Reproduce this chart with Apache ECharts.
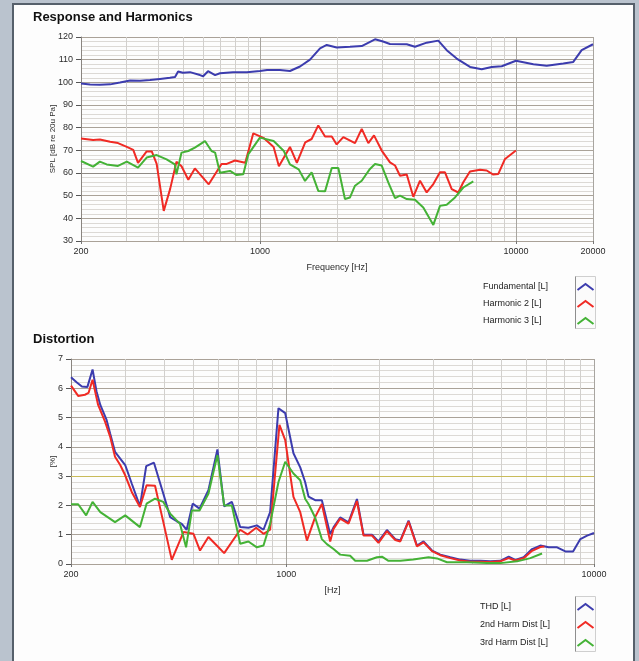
<!DOCTYPE html>
<html>
<head>
<meta charset="utf-8">
<script src="https://cdn.jsdelivr.net/npm/echarts@6/dist/echarts.min.js"></script>
<style>
  html, body { margin: 0; padding: 0; background: #bac3ce; }
  #frame { position: absolute; left: 12px; top: 3px; width: 619px; height: 660px;
           border: 2px solid #56606b; border-bottom: none; background: #fdfdfd; }
  #chart { position: absolute; left: 0; top: 0; width: 639px; height: 661px; }
</style>
</head>
<body>
<div id="frame"></div>
<div id="chart"></div>
<script>
// ---- Response and Harmonics (SPL, dB re 20 uPa) ----
const fundamentalHz = [200, 217, 237, 260, 284, 311, 340, 372, 407, 445, 466, 479, 500, 533, 583, 600, 627, 668, 698, 785, 890, 1000, 1066, 1197, 1310, 1434, 1569, 1717, 1824, 1995, 2248, 2498, 2815, 3025, 3220, 3745, 4034, 4481, 4974, 5365, 5870, 6615, 7350, 8040, 8800, 10000, 11700, 13190, 15310, 16750, 18060, 20000];
const fundamentalDb = [99.5, 99.0, 98.9, 99.1, 99.9, 100.8, 100.7, 101.0, 101.5, 102.0, 102.4, 104.8, 104.2, 104.5, 103.2, 102.7, 104.9, 103.2, 104.0, 104.5, 104.4, 105.0, 105.4, 105.4, 105.0, 107.0, 110.0, 115.0, 116.5, 115.4, 115.7, 116.0, 119.0, 118.0, 116.9, 116.8, 115.7, 117.5, 118.4, 114.2, 110.5, 106.8, 105.8, 106.8, 107.1, 109.5, 108.0, 107.3, 108.3, 109.0, 114.2, 116.8];

const harmonic2Hz = [200, 223, 237, 260, 279, 302, 320, 334, 361, 378, 395, 421, 446, 472, 494, 525, 557, 631, 708, 742, 799, 876, 942, 1032, 1131, 1186, 1310, 1394, 1503, 1592, 1690, 1796, 1908, 1994, 2117, 2352, 2498, 2651, 2790, 2990, 3221, 3371, 3525, 3745, 3973, 4220, 4481, 4757, 5050, 5284, 5612, 5954, 6228, 6614, 7240, 7686, 8156, 8534, 9066, 10000];
const harmonic2Db = [75.2, 74.6, 74.8, 73.8, 73.2, 71.5, 70.2, 64.5, 69.5, 69.5, 64, 43.3, 53, 65, 63, 57, 62, 55, 64, 64, 65.5, 64.5, 77.5, 75.5, 71.5, 63, 71.5, 64.5, 73.5, 75, 81, 76.1, 76.1, 72.6, 75.8, 73.2, 79.5, 73.2, 76.6, 69.9, 64.7, 63.3, 58.8, 59.3, 49.5, 56.6, 51.4, 55.1, 60.3, 60.3, 52.9, 51.4, 55.9, 60.7, 61.4, 61.1, 59.3, 59.6, 66.2, 69.9];

const harmonic3Hz = [200, 223, 237, 252, 279, 302, 334, 361, 395, 432, 465, 472, 494, 525, 557, 610, 647, 668, 698, 764, 811, 861, 900, 1000, 1131, 1240, 1310, 1417, 1500, 1592, 1690, 1796, 1908, 2024, 2148, 2248, 2352, 2498, 2690, 2815, 2990, 3172, 3371, 3525, 3745, 4034, 4346, 4757, 5050, 5365, 5781, 6228, 6814];
const harmonic3Db = [65.3, 62.8, 65, 63.8, 63.1, 65, 62.4, 66.8, 67.9, 66, 63.8, 59.4, 69, 69.7, 71.2, 74.1, 69.7, 69, 60.1, 60.9, 59.1, 59.4, 68.2, 75.6, 74.1, 69.7, 63.8, 61.6, 56.5, 60.3, 52.1, 51.9, 62.2, 62.2, 48.5, 49.2, 54.4, 56.6, 61.8, 64, 63.3, 55.9, 48.9, 50, 48.5, 48.2, 44.8, 37.1, 45.5, 46, 49.2, 53.6, 56.3];

// ---- Distortion (%) ----
const thdHz = [200, 209, 217, 226, 235, 242, 249, 261, 268, 278, 289, 300, 315, 335, 351, 372, 399, 420, 441, 458, 475, 497, 523, 559, 598, 629, 666, 709, 754, 803, 844, 887, 944, 993, 1056, 1111, 1153, 1182, 1242, 1306, 1390, 1425, 1498, 1594, 1698, 1784, 1900, 1995, 2125, 2262, 2348, 2498, 2660, 2794, 2977, 3168, 3414, 3679, 3964, 4272, 4605, 4962, 5282, 5551, 5909, 6292, 6694, 7124, 7586, 8072, 8551, 9030, 9495, 10000];
const thdPct = [6.38, 6.2, 6.06, 6.04, 6.64, 5.9, 5.43, 4.92, 4.46, 3.83, 3.6, 3.38, 2.75, 1.97, 3.34, 3.46, 2.4, 1.6, 1.46, 1.37, 1.17, 2.06, 1.89, 2.52, 3.91, 1.97, 2.12, 1.26, 1.24, 1.32, 1.17, 1.77, 5.32, 5.15, 3.78, 3.3, 2.79, 2.3, 2.18, 2.18, 1.02, 1.25, 1.59, 1.42, 2.22, 1.0, 1.0, 0.77, 1.16, 0.85, 0.8, 1.48, 0.63, 0.77, 0.46, 0.32, 0.23, 0.15, 0.11, 0.11, 0.09, 0.11, 0.25, 0.14, 0.23, 0.51, 0.63, 0.57, 0.57, 0.43, 0.43, 0.85, 0.97, 1.06];

const harm2Hz = [200, 211, 222, 228, 235, 245, 258, 268, 278, 289, 300, 315, 335, 352, 375, 399, 425, 447, 464, 500, 525, 559, 595, 629, 709, 749, 799, 844, 887, 951, 993, 1056, 1111, 1168, 1242, 1306, 1390, 1425, 1498, 1594, 1698, 1784, 1900, 1995, 2125, 2262, 2348, 2498, 2660, 2794, 2977, 3168, 3414, 3679, 3964, 4272, 4605, 4962, 5282, 5551, 5909, 6292, 6694, 6900];
const harm2Pct = [6.09, 5.74, 5.78, 5.84, 6.29, 5.43, 4.86, 4.35, 3.66, 3.38, 3.03, 2.46, 1.95, 2.69, 2.67, 1.43, 0.14, 0.69, 1.09, 1.03, 0.46, 0.92, 0.63, 0.37, 1.17, 1.01, 1.24, 1.03, 1.17, 4.75, 4.23, 2.29, 1.77, 0.8, 1.6, 2.05, 0.77, 1.2, 1.55, 1.38, 2.15, 0.97, 0.97, 0.72, 1.12, 0.82, 0.77, 1.45, 0.6, 0.74, 0.44, 0.3, 0.2, 0.12, 0.08, 0.08, 0.07, 0.09, 0.2, 0.12, 0.2, 0.45, 0.58, 0.6];

const harm3Hz = [200, 211, 224, 235, 249, 278, 300, 335, 352, 375, 399, 420, 452, 473, 494, 523, 559, 598, 629, 666, 709, 754, 803, 844, 887, 944, 993, 1056, 1111, 1153, 1182, 1242, 1306, 1356, 1425, 1498, 1614, 1676, 1830, 1971, 2047, 2150, 2348, 2587, 2902, 3090, 3330, 3868, 4493, 4962, 5624, 6212, 6780];
const harm3Pct = [2.04, 2.04, 1.66, 2.12, 1.77, 1.43, 1.66, 1.26, 2.06, 2.23, 2.12, 1.72, 1.37, 0.57, 1.83, 1.83, 2.4, 3.72, 2.0, 2.0, 0.69, 0.77, 0.57, 0.63, 1.37, 2.8, 3.49, 3.09, 2.86, 2.22, 2.05, 1.59, 0.85, 0.68, 0.51, 0.32, 0.28, 0.11, 0.11, 0.23, 0.25, 0.11, 0.11, 0.15, 0.23, 0.19, 0.06, 0.06, 0.03, 0.03, 0.09, 0.2, 0.36];

const responseNames = ['Fundamental [L]', 'Harmonic 2 [L]', 'Harmonic 3 [L]'];
const distortionNames = ['THD [L]', '2nd Harm Dist [L]', '3rd Harm Dist [L]'];

const BLUE = '#3c3cae', RED = '#f02a24', GREEN = '#44b236';
const FONT = '"Liberation Sans", Arial, sans-serif';
const MAJOR = '#aaa298', MINOR = '#dcd9d5', VMINOR = '#d2d0cd', VMAJOR = '#a8a5a0';

const pairs = (xs, ys) => xs.map((x, i) => [x, ys[i]]);

// intermediate log gridlines (2..9 x decade) strictly inside the axis range
function logMinor(min, max) {
  const out = [];
  for (let d = 100; d <= max; d *= 10)
    for (let k = 2; k <= 9; k++) { const f = k * d; if (f > min && f < max) out.push(f); }
  return out;
}

function vGrid(idx, xs, y0, y1, color) {
  return {
    type: 'custom', xAxisIndex: idx, yAxisIndex: idx, silent: true, z: 1, clip: false,
    encode: { x: 0, y: 1 },
    data: xs.map(f => [f, y0]),
    renderItem(params, api) {
      const a = api.coord([api.value(0), y0]), b = api.coord([api.value(0), y1]);
      const x = Math.round(a[0]) + 0.5;
      return { type: 'line', shape: { x1: x, y1: a[1], x2: x, y2: b[1] }, style: { stroke: color, lineWidth: 1 } };
    }
  };
}
function hLine(idx, xmin, xmax, yv, color) {
  return {
    type: 'custom', xAxisIndex: idx, yAxisIndex: idx, silent: true, z: 2, clip: false,
    encode: { x: 0, y: 1 },
    data: [[xmin, yv]],
    renderItem(params, api) {
      const a = api.coord([xmin, yv]), b = api.coord([xmax, yv]);
      const y = Math.round(a[1]) + 0.5;
      return { type: 'line', shape: { x1: a[0], y1: y, x2: b[0], y2: y }, style: { stroke: color, lineWidth: 1 } };
    }
  };
}
function curve(idx, name, data, color) {
  return {
    type: 'line', name, xAxisIndex: idx, yAxisIndex: idx, data, z: 5,
    showSymbol: false, symbol: 'none', animation: false,
    lineStyle: { color, width: 2 }, itemStyle: { color }
  };
}

const labelStyle = { fontFamily: FONT, fontSize: 9, color: '#2b2b2b' };

function xAxisCfg(idx, min, max, name) {
  return {
    type: 'log', logBase: 10, gridIndex: idx, min, max, name,
    nameLocation: 'middle', nameGap: 22, nameMoveOverlap: false,
    nameTextStyle: { fontFamily: FONT, fontSize: 9, color: '#2b2b2b' },
    axisLine: { show: true, lineStyle: { color: MAJOR } },
    axisTick: { show: true, length: 3, lineStyle: { color: '#777' } },
    axisLabel: Object.assign({ margin: 6, showMinLabel: true, showMaxLabel: true,
                               formatter: v => String(Math.round(v)) }, labelStyle),
    splitLine: { show: true, lineStyle: { color: VMAJOR } }
  };
}
function yAxisCfg(idx, min, max, interval, name, gap) {
  return {
    type: 'value', gridIndex: idx, min, max, interval, name,
    nameLocation: 'middle', nameGap: gap, nameMoveOverlap: false,
    nameTextStyle: { fontFamily: FONT, fontSize: 8, color: '#2b2b2b' },
    axisLine: { show: true, lineStyle: { color: '#8a8580' } },
    axisTick: { show: true, length: 5, lineStyle: { color: '#555' } },
    axisLabel: Object.assign({ margin: 8 }, labelStyle),
    splitLine: { show: true, lineStyle: { color: MAJOR } },
    minorTick: { show: false, splitNumber: 5 },
    minorSplitLine: { show: true, lineStyle: { color: MINOR } }
  };
}

function legendBlock(x0, ys, names, colors, box) {
  const els = [{
    type: 'rect', shape: box, style: { fill: '#fbfbfb', stroke: '#cfcfcf', lineWidth: 1 }, silent: true
  }, {
    type: 'line', shape: { x1: box.x, y1: box.y, x2: box.x, y2: box.y + box.height },
    style: { stroke: '#8e8e8e', lineWidth: 1 }, silent: true
  }];
  names.forEach((n, i) => {
    els.push({ type: 'text', x: x0, y: ys[i], style: { text: n, font: '9px ' + FONT, fill: '#222', verticalAlign: 'middle' } });
    const cx = box.x + box.width / 2, y = ys[i];
    els.push({ type: 'polyline', shape: { points: [[cx - 8, y + 3], [cx, y - 3], [cx + 8, y + 3]] },
               style: { stroke: colors[i], lineWidth: 2, fill: null } });
  });
  return els;
}

const chart = echarts.init(document.getElementById('chart'), null, { renderer: 'canvas' });
chart.setOption({
  animation: false,
  backgroundColor: 'transparent',
  grid: [
    { left: 81, top: 37, width: 512, height: 204 },
    { left: 71, top: 359, width: 523, height: 205 }
  ],
  xAxis: [xAxisCfg(0, 200, 20000, 'Frequency [Hz]'), xAxisCfg(1, 200, 10000, '[Hz]')],
  yAxis: [yAxisCfg(0, 30, 120, 10, 'SPL [dB re 20u Pa]', 24), yAxisCfg(1, 0, 7, 1, '[%]', 14)],
  series: [
    vGrid(0, logMinor(200, 20000), 30, 120, VMINOR),
    vGrid(1, logMinor(200, 10000), 0, 7, VMINOR),
    hLine(0, 200, 20000, 60, '#8f8a84'),
    hLine(1, 200, 10000, 3, '#c9bb5a'),
    curve(0, responseNames[0], pairs(fundamentalHz, fundamentalDb), BLUE),
    curve(0, responseNames[1], pairs(harmonic2Hz, harmonic2Db), RED),
    curve(0, responseNames[2], pairs(harmonic3Hz, harmonic3Db), GREEN),
    curve(1, distortionNames[0], pairs(thdHz, thdPct), BLUE),
    curve(1, distortionNames[1], pairs(harm2Hz, harm2Pct), RED),
    curve(1, distortionNames[2], pairs(harm3Hz, harm3Pct), GREEN)
  ],
  graphic: [
    { type: 'text', x: 33, y: 17, style: { text: 'Response and Harmonics', font: 'bold 13px ' + FONT, fill: '#111', verticalAlign: 'middle' } },
    { type: 'text', x: 33, y: 339, style: { text: 'Distortion', font: 'bold 13px ' + FONT, fill: '#111', verticalAlign: 'middle' } },
    ...legendBlock(483, [287, 304, 321], responseNames, [BLUE, RED, GREEN], { x: 575.5, y: 276.5, width: 20, height: 52 }),
    ...legendBlock(480, [607, 625, 643], distortionNames, [BLUE, RED, GREEN], { x: 575.5, y: 596.5, width: 20, height: 55 })
  ]
});
</script>
</body>
</html>
